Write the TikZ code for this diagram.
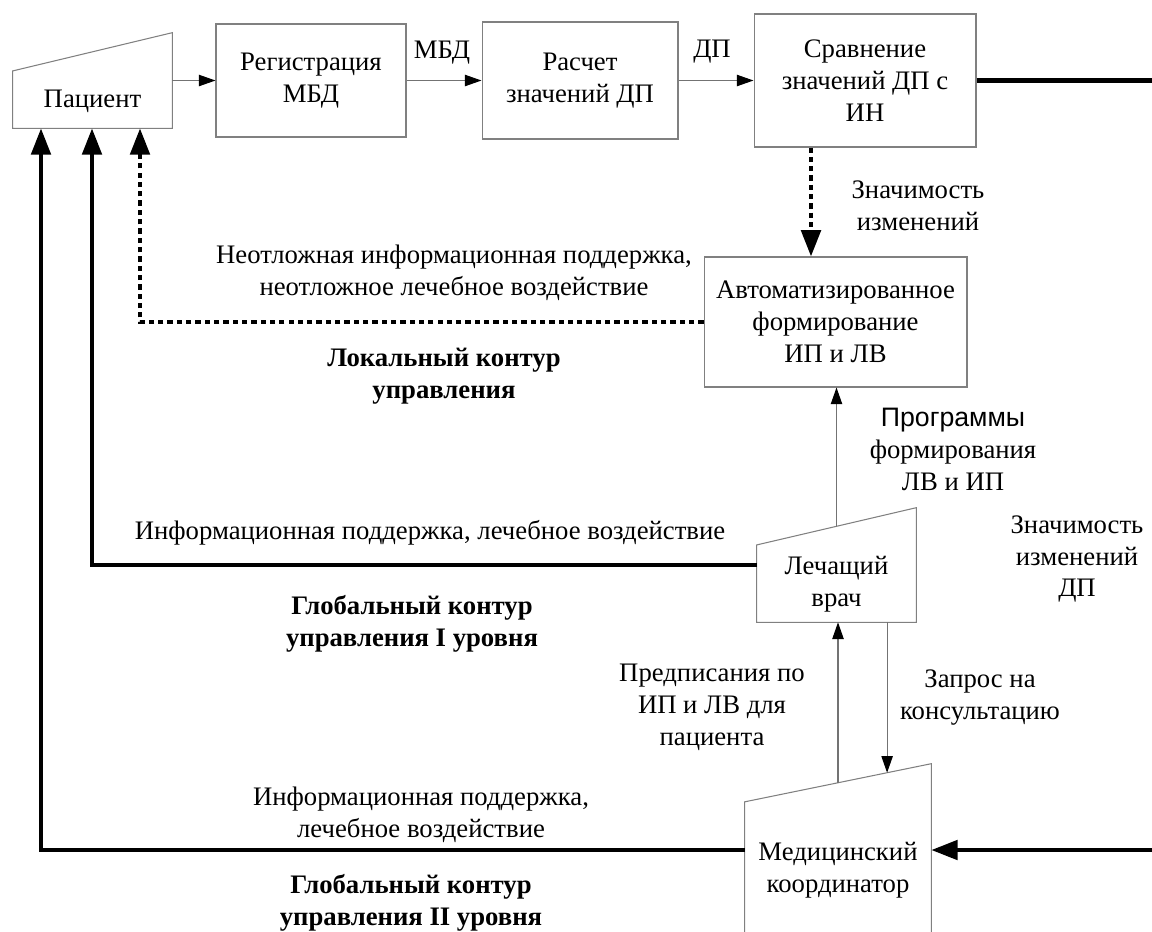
\documentclass[tikz,border=0pt]{standalone}
\usepackage{fontspec}
\setmainfont{Liberation Serif}
\newfontfamily\sansfont{Liberation Sans}
\usepackage{tikz}
\usetikzlibrary{arrows.meta}
\usetikzlibrary{calc}

\newcommand{\taille}{\fontsize{15.2}{18.2}\selectfont}

\tikzset{
  boite/.style={draw=black!50, line width=0.6pt, align=center, inner sep=0pt},
  fond/.style={draw=none, inner sep=0pt},
  cadre/.style={draw=black!50, line width=0.6pt},
  fin/.style={draw=black!55, line width=0.6pt, -{Triangle[length=9.5pt, width=6.5pt, color=black]}},
  gras/.style={line width=2.4pt, -{Triangle[length=15pt, width=11pt]}},
  tirets/.style={line width=2.4pt, dash pattern=on 3pt off 2.3pt, -{Triangle[length=15pt, width=11pt]}},
  legende/.style={align=center, inner sep=0pt},
  titre/.style={align=center, inner sep=0pt, font=\taille\bfseries}
}

\begin{document}
\begin{tikzpicture}[x=0.02cm, y=-0.02cm, font=\taille]
        % Cadre de l'image
        \clip (0,0) rectangle (1152,931);

        % Blocs de la ligne du haut
        \node[fond, minimum width=3.18cm, minimum height=1.9cm] (pac) at (92.5,80.5) {};
        \node[boite, minimum width=3.8cm, minimum height=2.26cm] (reg) at (311,80.5) {Регистрация\\МБД};
        \node[boite, minimum width=3.92cm, minimum height=2.34cm] (ras) at (580,80.5) {Расчет\\значений ДП};
        \node[boite, minimum width=4.44cm, minimum height=2.66cm] (srav) at (865,80.5) {Сравнение\\значений ДП с\\ИН};

        % Blocs de la colonne de droite
        \node[boite, minimum width=5.26cm, minimum height=2.6cm] (avt) at (835.5,322) {Автоматизированное\\формирование\\ИП и ЛВ};
        \node[fond, minimum width=3.18cm, minimum height=2.28cm] (lech) at (836.5,565) {};
        \node[fond, minimum width=3.72cm, minimum height=3.44cm] (med) at (838,850) {};

        % Trapèzes (bord du haut incliné)
        \coordinate (pacA) at ($(pac.north west)!0.4!(pac.south west)$);
        \coordinate (lechA) at ($(lech.north west)!0.325!(lech.south west)$);
        \coordinate (medA) at ($(med.north west)!0.221!(med.south west)$);
        \draw[cadre] (pac.south west) -- (pac.south east) -- (pac.north east) -- (pacA) -- cycle;
        \draw[cadre] (lech.south west) -- (lech.south east) -- (lech.north east) -- (lechA) -- cycle;
        \draw[cadre] (med.south west) -- (med.south east) -- (med.north east) -- (medA) -- cycle;
        \node[legende] (pactxt) at ([yshift=-0.41cm]pac.center) {Пациент};
        \node[legende] (lechtxt) at ([yshift=-0.38cm]lech.center) {Лечащий\\врач};
        \node[legende] (medtxt) at ([yshift=-0.4cm]med.center) {Медицинский\\координатор};

        % Points de repère
        \coordinate (droite) at (1152,0);
        \coordinate (xs) at (811,0);
        \coordinate (x1) at (41,0);
        \coordinate (x2) at (92,0);
        \coordinate (x3) at (140,0);
        \coordinate (lechM) at ($(lechA)!0.5!(lech.north east)$);
        \coordinate (medM) at ($(medA)!0.5!(med.north east)$);
        \coordinate (medR) at ($(medA)!0.763!(med.north east)$);

        % Flèches fines
        \draw[fin] (pac.east) -- (reg.west);
        \draw[fin] (reg) -- (ras);
        \draw[fin] (ras) -- (srav);
        \draw[fin] (lechM) -- (avt.south -| lechM);
        \draw[fin] (medM) -- (lech.south -| medM);
        \draw[fin] (lech.south -| medR) -- (medR);

        % Contours de commande
        \draw[gras, -] (srav.east) -- (srav.east -| droite);
        \draw[tirets] (srav.south -| xs) -- (avt.north -| xs);
        \draw[tirets] (avt.west) -| (pac.south -| x3);
        \draw[gras] (lech.west) -| (pac.south -| x2);
        \draw[gras] (med.west) -| (pac.south -| x1);
        \draw[gras] (med.east -| droite) -- (med.east);

        % Légendes
        \node[legende] (lmbd) at (442,53) {МБД};
        \node[legende] (ldp) at (712,52) {ДП};
        \node[legende] (lzn) at (918,206) {Значимость\\изменений};
        \node[legende] (lneo) at (454,273) {Неотложная информационная поддержка,\\неотложное лечебное воздействие};
        \node[titre] (lloc) at (444,376) {Локальный контур\\управления};
        \node[legende] (lprog) at (953,449) {{\sansfont Программы}\\формирования\\ЛВ и ИП};
        \node[legende] (lzndp) at (1077,559) {Значимость\\изменений\\ДП};
        \node[legende] (linf1) at (430,533) {Информационная поддержка, лечебное воздействие};
        \node[titre] (lglob1) at (412,624) {Глобальный контур\\управления I уровня};
        \node[legende] (lpred) at (712,707) {Предписания по\\ИП и ЛВ для\\пациента};
        \node[legende] (lzap) at (980,698) {Запрос на\\консультацию};
        \node[legende] (linf2) at (421,815) {Информационная поддержка,\\лечебное воздействие};
        \node[titre] (lglob2) at (411,903) {Глобальный контур\\управления II уровня};
\end{tikzpicture}
\end{document}
